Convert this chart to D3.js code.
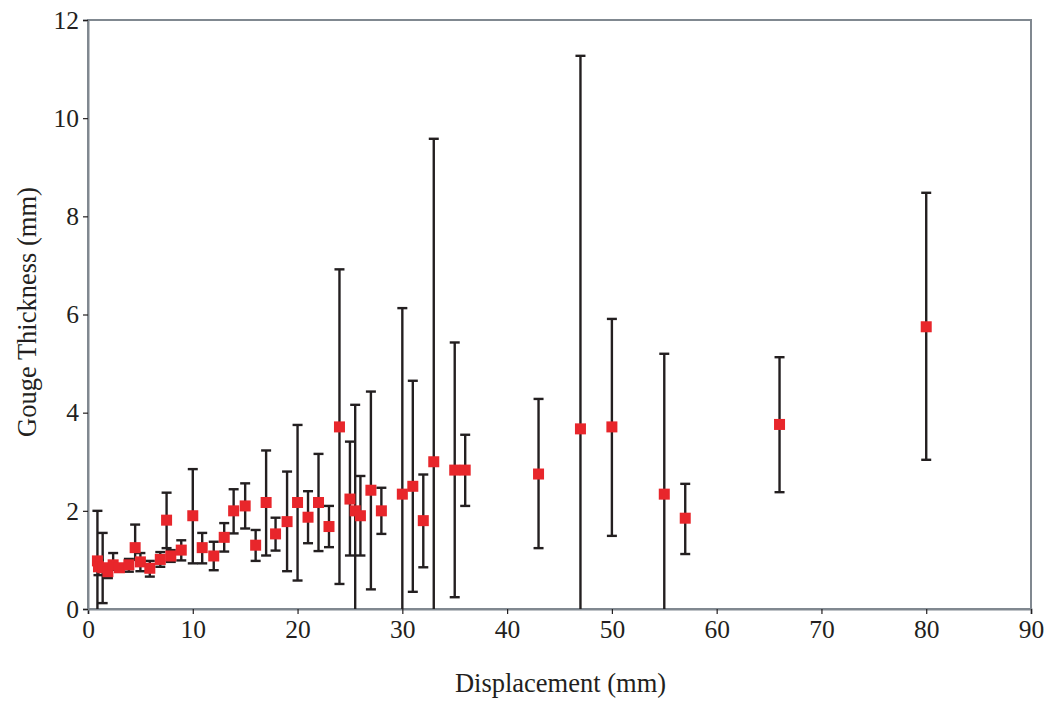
<!DOCTYPE html>
<html>
<head>
<meta charset="utf-8">
<script src="https://cdn.jsdelivr.net/npm/d3@7"></script>
<style>
  html, body { margin: 0; padding: 0; background: #fff; }
  svg { display: block; }
  text { font-family: "Liberation Serif", "Times New Roman", serif; fill: #231f20; }
</style>
</head>
<body>
<svg id="chart" width="1049" height="703"></svg>
<script>
// Displacement (mm)
const displacement = [0.9, 1.0, 1.4, 1.9, 2.4, 3.0, 3.9, 4.5, 5.0, 5.9, 6.9, 7.5, 7.9, 8.9, 10.0,
  10.9, 12.0, 13.0, 13.9, 15.0, 16.0, 17.0, 17.9, 19.0, 20.0, 21.0, 22.0, 23.0, 24.0,
  25.0, 25.5, 26.0, 27.0, 28.0, 30.0, 31.0, 32.0, 33.0, 35.0, 36.0, 43.0, 47.0, 50.0,
  55.0, 57.0, 66.0, 80.0];
// Gouge thickness (mm)
const thickness = [0.98, 0.86, 0.84, 0.76, 0.9, 0.84, 0.9, 1.25, 0.96, 0.83, 1.01, 1.81, 1.08, 1.2, 1.9,
  1.25, 1.08, 1.46, 2.0, 2.1, 1.3, 2.17, 1.53, 1.78, 2.17, 1.87, 2.17, 1.68, 3.71,
  2.24, 2.0, 1.9, 2.42, 2.0, 2.34, 2.5, 1.8, 3.0, 2.83, 2.83, 2.75, 3.67, 3.71,
  2.34, 1.85, 3.76, 5.75];
// Error bar upper and lower limits (mm)
const errHigh = [2.0, 1.0, 1.55, 0.9, 1.14, 0.9, 1.02, 1.72, 1.14, 0.98, 1.16, 2.37, 1.2, 1.4, 2.85,
  1.55, 1.37, 1.75, 2.44, 2.56, 1.61, 3.23, 1.86, 2.8, 3.75, 2.4, 3.16, 2.1, 6.92,
  3.41, 4.16, 2.71, 4.43, 2.47, 6.13, 4.65, 2.74, 9.58, 5.43, 3.55, 4.28, 11.27, 5.91,
  5.2, 2.55, 5.13, 8.48];
const errLow = [0.0, 0.69, 0.12, 0.63, 0.8, 0.78, 0.76, 1.0, 0.77, 0.66, 0.86, 1.24, 0.96, 0.99, 0.93,
  0.93, 0.79, 1.17, 1.54, 1.64, 0.98, 1.09, 1.19, 0.77, 0.58, 1.34, 1.18, 1.26, 0.51,
  1.09, -0.16, 1.09, 0.4, 1.53, -1.45, 0.35, 0.85, -3.58, 0.24, 2.1, 1.24, -3.93, 1.49,
  -0.52, 1.12, 2.38, 3.04];
const xTicks = [0, 10, 20, 30, 40, 50, 60, 70, 80, 90];
const yTicks = [0, 2, 4, 6, 8, 10, 12];

const svg = d3.select("#chart");
const margin = {left: 88, right: 18, top: 20, bottom: 94};
const W = 1049, H = 703;
const x = d3.scaleLinear().domain([0, 90]).range([margin.left, W - margin.right]);
const y = d3.scaleLinear().domain([0, 12]).range([H - margin.bottom, margin.top]);

const frameColor = "#808890";
const ink = "#231f20";

const data = displacement.map((d, i) => ({x: d, y: thickness[i], hi: errHigh[i], lo: Math.max(0, errLow[i])}));

// frame
svg.append("rect")
  .attr("x", x(0)).attr("y", y(12))
  .attr("width", x(90) - x(0)).attr("height", y(0) - y(12))
  .attr("fill", "none").attr("stroke", frameColor).attr("stroke-width", 2);

// axes
const xAxis = svg.append("g").attr("transform", `translate(0,${y(0)})`)
  .call(d3.axisBottom(x).tickValues(xTicks).tickSize(5).tickPadding(6).tickFormat(d3.format("d")));
const yAxis = svg.append("g").attr("transform", `translate(${x(0)},0)`)
  .call(d3.axisLeft(y).tickValues(yTicks).tickSize(5).tickPadding(4).tickFormat(d3.format("d")));
[xAxis, yAxis].forEach(g => {
  g.attr("font-family", null).attr("font-size", null);
  g.select(".domain").attr("stroke", frameColor).attr("stroke-width", 2);
  g.selectAll(".tick line").attr("stroke", ink).attr("stroke-width", 1.2);
  g.selectAll(".tick text").attr("font-size", 25.5).attr("fill", ink);
});

// error bars
const eb = svg.append("g").attr("stroke", ink).attr("stroke-width", 2.4);
const capW = 5;
data.forEach(d => {
  eb.append("line").attr("x1", x(d.x)).attr("x2", x(d.x)).attr("y1", y(d.hi)).attr("y2", y(d.lo));
  eb.append("line").attr("x1", x(d.x) - capW).attr("x2", x(d.x) + capW).attr("y1", y(d.hi)).attr("y2", y(d.hi));
  if (d.lo > 0) {
    eb.append("line").attr("x1", x(d.x) - capW).attr("x2", x(d.x) + capW).attr("y1", y(d.lo)).attr("y2", y(d.lo));
  }
});

// markers
const ms = 11;
svg.append("g").selectAll("rect").data(data).join("rect")
  .attr("x", d => x(d.x) - ms / 2).attr("y", d => y(d.y) - ms / 2)
  .attr("width", ms).attr("height", ms)
  .attr("fill", "#e8262b");

// axis titles
svg.append("text")
  .attr("x", (x(0) + x(90)) / 2 + 1).attr("y", 692)
  .attr("text-anchor", "middle").attr("font-size", 26.5)
  .text("Displacement (mm)");
svg.append("text")
  .attr("transform", `translate(36,312) rotate(-90)`)
  .attr("text-anchor", "middle").attr("font-size", 26.5)
  .text("Gouge Thickness (mm)");
</script>
</body>
</html>
